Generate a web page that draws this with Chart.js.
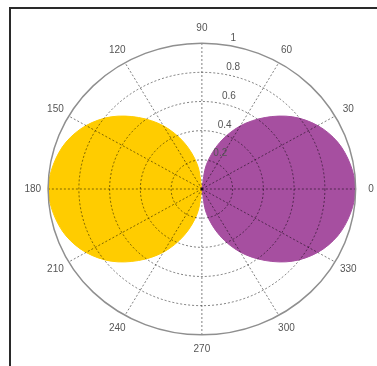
<!DOCTYPE html>
<html>
<head>
<meta charset="utf-8">
<script src="https://cdn.jsdelivr.net/npm/chart.js@4"></script>
<style>
  body { margin: 0; background: #fff; overflow: hidden; }
  #frame { position: absolute; left: 9px; top: 7px; width: 420px; height: 420px;
           border-left: 2px solid #2a2a2a; border-top: 2px solid #2a2a2a; }
  #chart { position: absolute; left: 0; top: 0; }
</style>
</head>
<body>
<div id="frame"></div>
<canvas id="chart" width="377" height="366"></canvas>
<script>
// pattern angles (degrees) and radii
const purpleAngles = [-90, -80, -70, -60, -50, -40, -30, -20, -10, 0, 10, 20, 30, 40, 50, 60, 70, 80, 90];
const purpleR = [0, 0.17, 0.34, 0.5, 0.64, 0.77, 0.87, 0.94, 0.98, 1, 0.98, 0.94, 0.87, 0.77, 0.64, 0.5, 0.34, 0.17, 0];
const goldAngles = [90, 100, 110, 120, 130, 140, 150, 160, 170, 180, 190, 200, 210, 220, 230, 240, 250, 260, 270];
const goldR = [0, 0.17, 0.34, 0.5, 0.64, 0.77, 0.87, 0.94, 0.98, 1, 0.98, 0.94, 0.87, 0.77, 0.64, 0.5, 0.34, 0.17, 0];

const angleTicks = [0, 30, 60, 90, 120, 150, 180, 210, 240, 270, 300, 330];
const radialTicks = [0.2, 0.4, 0.6, 0.8, 1];

const rad = d => d * Math.PI / 180;
function toXY(angles, radii) {
  return angles.map((a, i) => ({ x: radii[i] * Math.cos(rad(a)), y: radii[i] * Math.sin(rad(a)) }));
}

// polar grid + labels drawn over the filled lobes
const polarGrid = {
  id: 'polarGrid',
  afterDatasetsDraw(chart) {
    const ctx = chart.ctx;
    const xs = chart.scales.x, ys = chart.scales.y;
    const cx = xs.getPixelForValue(0), cy = ys.getPixelForValue(0);
    const px = (r, a) => xs.getPixelForValue(r * Math.cos(rad(a)));
    const py = (r, a) => ys.getPixelForValue(r * Math.sin(rad(a)));
    const rmax = radialTicks[radialTicks.length - 1];

    ctx.save();
    ctx.lineWidth = 1;
    ctx.strokeStyle = 'rgba(0,0,0,0.5)';
    ctx.setLineDash([2, 2]);
    radialTicks.slice(0, -1).forEach(r => {
      ctx.beginPath();
      ctx.ellipse(cx, cy, px(r, 0) - cx, cy - py(r, 90), 0, 0, Math.PI * 2);
      ctx.stroke();
    });
    angleTicks.forEach(a => {
      ctx.beginPath();
      ctx.moveTo(cx, cy);
      ctx.lineTo(px(rmax, a), py(rmax, a));
      ctx.stroke();
    });

    ctx.setLineDash([]);
    ctx.strokeStyle = '#8f8f8f';
    ctx.lineWidth = 1.5;
    ctx.beginPath();
    ctx.ellipse(cx, cy, px(rmax, 0) - cx, cy - py(rmax, 90), 0, 0, Math.PI * 2);
    ctx.stroke();

    ctx.fillStyle = '#555';
    ctx.font = '10px "Liberation Sans", Arial, sans-serif';
    ctx.textAlign = 'center';
    ctx.textBaseline = 'middle';
    angleTicks.forEach(a => {
      ctx.fillText(String(a), px(1.1 * rmax, a), py(1.1 * rmax, a));
    });

    ctx.textAlign = 'left';
    ctx.textBaseline = 'bottom';
    radialTicks.forEach(r => {
      const rr = r + 0.01;
      ctx.fillText(String(r), px(rr, 82) + 7, py(rr, 82));
    });
    ctx.restore();
  }
};

new Chart(document.getElementById('chart'), {
  type: 'scatter',
  data: {
    datasets: [
      {
        data: toXY(purpleAngles, purpleR),
        showLine: true,
        fill: 'shape',
        backgroundColor: '#a64fa0',
        borderColor: '#a64fa0',
        borderWidth: 1,
        pointRadius: 0,
        tension: 0.33
      },
      {
        data: toXY(goldAngles, goldR),
        showLine: true,
        fill: 'shape',
        backgroundColor: '#ffcc00',
        borderColor: '#ffcc00',
        borderWidth: 1,
        pointRadius: 0,
        tension: 0.33
      }
    ]
  },
  options: {
    responsive: false,
    animation: false,
    devicePixelRatio: 1,
    layout: { padding: { left: 2, right: 6, top: 14, bottom: 2 } },
    plugins: { legend: { display: false }, tooltip: { enabled: false } },
    scales: {
      x: { type: 'linear', min: -1.3, max: 1.1, display: false },
      y: { type: 'linear', min: -1.2, max: 1.2, display: false }
    }
  },
  plugins: [polarGrid]
});
</script>
</body>
</html>
